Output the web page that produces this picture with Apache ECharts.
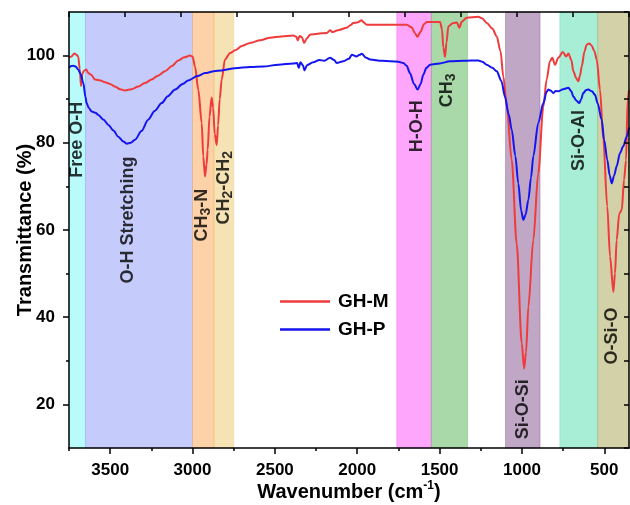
<!DOCTYPE html>
<html>
<head>
<meta charset="utf-8">
<script src="https://cdn.jsdelivr.net/npm/echarts@6/dist/echarts.min.js"></script>
<style>
  html, body { margin: 0; padding: 0; background: #fff; }
  #main { width: 630px; height: 505px; }
</style>
</head>
<body>
<div id="main"></div>
<script>
// GH-M spectrum (red)
var mWave = [3750, 3735, 3718, 3705, 3694, 3685, 3677, 3668, 3657, 3645, 3633, 3615, 3592, 3560, 3531, 3500, 3471, 3440, 3410, 3370,
  3329, 3290, 3248, 3210, 3167, 3125, 3086, 3050, 3015, 3000, 2985, 2965, 2944, 2935, 2924, 2915, 2908, 2897, 2884, 2875,
  2865, 2853, 2845, 2835, 2823, 2803, 2772, 2742, 2700, 2651, 2590, 2530, 2460, 2388, 2370, 2361, 2350, 2335, 2323, 2305,
  2287, 2240, 2185, 2165, 2150, 2110, 2064, 2040, 2024, 2000, 1973, 1960, 1943, 1882, 1800, 1700, 1670, 1650, 1635, 1615,
  1595, 1578, 1497, 1485, 1478, 1467, 1458, 1447, 1417, 1395, 1380, 1365, 1335, 1265, 1240, 1214, 1180, 1153, 1130, 1113,
  1092, 1062, 1032, 1001, 987, 975, 961, 931, 901, 870, 850, 830, 816, 799, 779, 752, 732, 718, 700, 688,
  670, 658, 647, 637, 620, 607, 592, 577, 560, 546, 526, 506, 482, 465, 445, 435, 425, 409, 394, 380,
  368, 358, 350]
var mTrans = [99.5, 99.8, 100.5, 100.2, 99.8, 97, 93, 96, 96.6, 96.8, 96, 95.6, 94.5, 94.3, 93.9, 93.5, 92.9, 92.3, 92.0, 92.3,
  92.9, 93.7, 94.5, 95.4, 96.4, 97.6, 98.9, 99.6, 100, 99.8, 97.5, 92.2, 84.5, 76.9, 72.3, 75, 78.4, 86, 90.4, 88,
  82, 79.5, 84, 90, 94.5, 99.1, 100.6, 101.2, 102.2, 102.9, 103.5, 104.1, 104.4, 104.6, 104.3, 103.5, 104.5, 104.2, 102.9, 104,
  104.8, 105, 105.2, 105.8, 105.4, 105.9, 106.4, 107, 107.5, 107.6, 108.1, 107.6, 107.1, 107.1, 107.1, 107.1, 106.5, 105.2, 104.3, 105.5,
  107.2, 107.7, 107.7, 106, 102, 99.7, 103, 106.7, 107.5, 107.6, 106.4, 107.8, 108.7, 108.9, 108.5, 107.5, 106.2, 104.4, 101, 95.2,
  88.3, 76, 56.9, 34, 28.2, 32, 42.4, 57.7, 73, 88.3, 94.5, 98.7, 99.5, 97.9, 99.5, 100.8, 99.8, 100.5, 99, 96.4,
  94.8, 94.1, 95.5, 97.5, 101, 102.5, 102.8, 102.3, 101, 99.1, 92.2, 80.7, 65.4, 53.9, 45.8, 50, 57.7, 63.8, 64.6, 71.5,
  76, 90, 92]

// GH-P spectrum (blue)
var pWave = [3750, 3735, 3724, 3710, 3694, 3680, 3663, 3650, 3643, 3630, 3612, 3590, 3572, 3540, 3511, 3480, 3451, 3420, 3400, 3375,
  3349, 3310, 3269, 3230, 3187, 3150, 3106, 3060, 3026, 2970, 2924, 2870, 2823, 2742, 2650, 2570, 2480, 2388, 2365, 2355,
  2345, 2330, 2320, 2305, 2267, 2230, 2200, 2165, 2140, 2125, 2084, 2050, 2033, 2003, 1985, 1973, 1945, 1922, 1850, 1750,
  1720, 1700, 1680, 1655, 1633, 1615, 1599, 1580, 1558, 1500, 1437, 1350, 1265, 1240, 1214, 1180, 1153, 1125, 1103, 1080,
  1062, 1040, 1022, 1005, 992, 978, 961, 945, 931, 901, 870, 850, 840, 825, 810, 795, 779, 750, 718, 700,
  688, 670, 652, 640, 628, 610, 597, 575, 556, 540, 516, 500, 482, 467, 455, 440, 425, 405, 385, 364, 350]
var pTrans = [97.2, 97.6, 97.7, 97.5, 96.8, 95.8, 93.7, 90.5, 89.1, 88, 87.2, 86.9, 86.4, 85.3, 84.1, 82.8, 81.4, 80.3, 79.8, 80,
  80.7, 82.7, 85.3, 87.3, 89.1, 90.7, 92.2, 93.5, 94.3, 95.3, 96, 96.4, 96.6, 97.1, 97.4, 97.5, 97.9, 98.2, 98.3, 97.2,
  98.5, 97.8, 96.6, 97.8, 98.5, 99, 98.8, 99.5, 99, 98.3, 98.7, 99.3, 100.2, 99.8, 100.2, 100.4, 99.5, 99.1, 98.8, 98.6,
  98.3, 97.7, 96, 93.5, 92.2, 93.5, 95.6, 97.2, 97.9, 98.2, 98.7, 98.8, 98.9, 98.6, 97.9, 97.2, 96.4, 94.2, 90.6, 86.5,
  83, 77, 70.7, 64.5, 62.3, 63.5, 66.9, 72, 76.9, 84.5, 89.1, 91.7, 92.2, 92, 91.4, 91.9, 91.8, 92.3, 92.6, 91.8,
  90.6, 89.7, 89.1, 90, 91.4, 92.1, 92.2, 91.8, 91, 89, 85.3, 80.5, 76.1, 72.5, 70.7, 72.5, 74.6, 77.6, 79.2, 81.4, 83.5]

// assignment bands
var bandFrom = [3750, 3650, 3000, 2870, 1760, 1550, 1100, 770, 540]
var bandTo = [3650, 3000, 2870, 2750, 1550, 1330, 890, 540, 350]
var bandColors = ['115,245,247', '139,151,245', '251,165,81', '235,199,107', '253,77,247', '83,179,81', '131,79,141', '81,219,173', '167,163,79']

// band labels
var labelNames = ['Free O-H', 'O-H Stretching', 'CH{sub|3}-N', 'CH{sub|2}-CH{sub|2}', 'H-O-H', 'CH{sub|3}', 'Si-O-Si', 'Si-O-Al', 'O-Si-O']
var labelWave = [3700, 3390, 2940, 2807, 1639, 1457, 991, 652, 451]
var labelTrans = [80.7, 62.3, 63.4, 69.7, 83.8, 92, 18.9, 80.5, 35.7]

var xTicks = [3500, 3000, 2500, 2000, 1500, 1000, 500]
var xMinor = [3750, 3250, 2750, 2250, 1750, 1250, 750]
var yTicks = [20, 40, 60, 80, 100]
var yMinor = [30, 50, 70, 90]

var font = 'Arial, "Liberation Sans", sans-serif'

function pairs(xs, ys) {
    var out = []
    for (var i = 0; i < xs.length; i++) out.push([xs[i], ys[i]])
    return out
}

var areas = []
for (var i = 0; i < bandFrom.length; i++) {
    areas.push([
        { xAxis: bandFrom[i], itemStyle: { color: 'rgba(' + bandColors[i] + ',0.5)', borderColor: 'rgba(' + bandColors[i] + ',0.6)', borderWidth: 0.6 } },
        { xAxis: bandTo[i] }
    ])
}

var labels = []
for (var i = 0; i < labelNames.length; i++) {
    labels.push({ name: labelNames[i], value: [labelWave[i], labelTrans[i]] })
}

var plain = function (v) { return String(v) }

var myChart = echarts.init(document.getElementById('main'))
var option = {
    animation: false,
    backgroundColor: '#fff',
    grid: { left: 69, right: 1, top: 12, bottom: 57, outerBoundsMode: 'none' },
    legend: {
        data: ['GH-M', 'GH-P'],
        orient: 'vertical',
        left: 275,
        top: 287,
        icon: 'rect',
        itemWidth: 50,
        itemHeight: 2.5,
        itemGap: 9,
        textStyle: { fontFamily: font, fontWeight: 'bold', fontSize: 19, color: '#000', padding: [0, 0, 0, 3] }
    },
    xAxis: [
        {
            type: 'value', position: 'bottom', inverse: true, min: 350, max: 3750, z: 10,
            name: '{a|Wavenumber (cm}{s|-1}{a|)}', nameLocation: 'middle', nameGap: 32, nameMoveOverlap: false,
            nameTextStyle: {
                rich: {
                    a: { fontFamily: font, fontWeight: 'bold', fontSize: 20, color: '#000', lineHeight: 24 },
                    s: { fontFamily: font, fontWeight: 'bold', fontSize: 12, color: '#000', verticalAlign: 'top', lineHeight: 14 }
                }
            },
            axisLine: { lineStyle: { color: '#000', width: 1.5 } },
            axisTick: { customValues: xTicks, length: 6, lineStyle: { color: '#000', width: 1.5 } },
            axisLabel: { customValues: xTicks, formatter: plain, margin: 14, fontFamily: font, fontWeight: 'bold', fontSize: 17, color: '#000' },
            splitLine: { show: false }
        },
        {
            type: 'value', position: 'bottom', inverse: true, min: 350, max: 3750, z: 10,
            axisLine: { show: false },
            axisTick: { customValues: xMinor, length: 3, lineStyle: { color: '#000', width: 1.5 } },
            axisLabel: { show: false },
            splitLine: { show: false }
        },
        {
            type: 'value', position: 'top', min: 0, max: 10, interval: 1, z: 10,
            axisLine: { lineStyle: { color: '#000', width: 1.5 } },
            axisTick: { inside: true, length: 5, lineStyle: { color: '#000', width: 1.5 } },
            axisLabel: { show: false },
            splitLine: { show: false }
        }
    ],
    yAxis: [
        {
            type: 'value', position: 'left', min: 10, max: 110, z: 10,
            name: 'Transmittance (%)', nameLocation: 'middle', nameGap: 34, nameMoveOverlap: false,
            nameTextStyle: { fontFamily: font, fontWeight: 'bold', fontSize: 20, color: '#000' },
            axisLine: { show: true, lineStyle: { color: '#000', width: 1.5 } },
            axisTick: { show: true, customValues: yTicks, length: 6, lineStyle: { color: '#000', width: 1.5 } },
            axisLabel: { customValues: yTicks, formatter: plain, margin: 14, fontFamily: font, fontWeight: 'bold', fontSize: 17, color: '#000' },
            splitLine: { show: false }
        },
        {
            type: 'value', position: 'left', min: 10, max: 110, z: 10,
            axisLine: { show: false },
            axisTick: { show: true, customValues: yMinor, length: 3, lineStyle: { color: '#000', width: 1.5 } },
            axisLabel: { show: false },
            splitLine: { show: false }
        },
        {
            type: 'value', position: 'right', min: 10, max: 110, interval: 10, z: 10,
            axisLine: { show: true, lineStyle: { color: '#000', width: 1.5 } },
            axisTick: { show: true, inside: true, length: 5, lineStyle: { color: '#000', width: 1.5 } },
            axisLabel: { show: false },
            splitLine: { show: false }
        }
    ],
    series: [
        {
            name: 'GH-M', type: 'line', z: 2, data: pairs(mWave, mTrans),
            showSymbol: false, smooth: 0.3, smoothMonotone: 'x',
            lineStyle: { color: '#ef3b3b', width: 2 }, itemStyle: { color: '#ef3b3b' }
        },
        {
            name: 'GH-P', type: 'line', z: 2, data: pairs(pWave, pTrans),
            showSymbol: false, smooth: 0.3, smoothMonotone: 'x',
            lineStyle: { color: '#1414f0', width: 2 }, itemStyle: { color: '#1414f0' }
        },
        {
            name: 'bands', type: 'line', z: 3, data: [],
            markArea: { silent: true, data: areas }
        },
        {
            // band labels sit on their own layer so the bands never tint them
            name: 'labels', type: 'scatter', zlevel: 1, z: 6, data: labels,
            symbolSize: 1, itemStyle: { color: 'rgba(0,0,0,0)' },
            labelLayout: { hideOverlap: false },
            label: {
                show: true, position: 'inside', rotate: 90, lineHeight: 22,
                formatter: function (p) { return p.name },
                fontFamily: font, fontWeight: 'bold', fontSize: 18, color: '#000',
                rich: {
                    sub: { fontFamily: font, fontWeight: 'bold', fontSize: 14, color: '#000', lineHeight: 14, verticalAlign: 'bottom' }
                }
            }
        }
    ]
}
myChart.setOption(option)
</script>
</body>
</html>
